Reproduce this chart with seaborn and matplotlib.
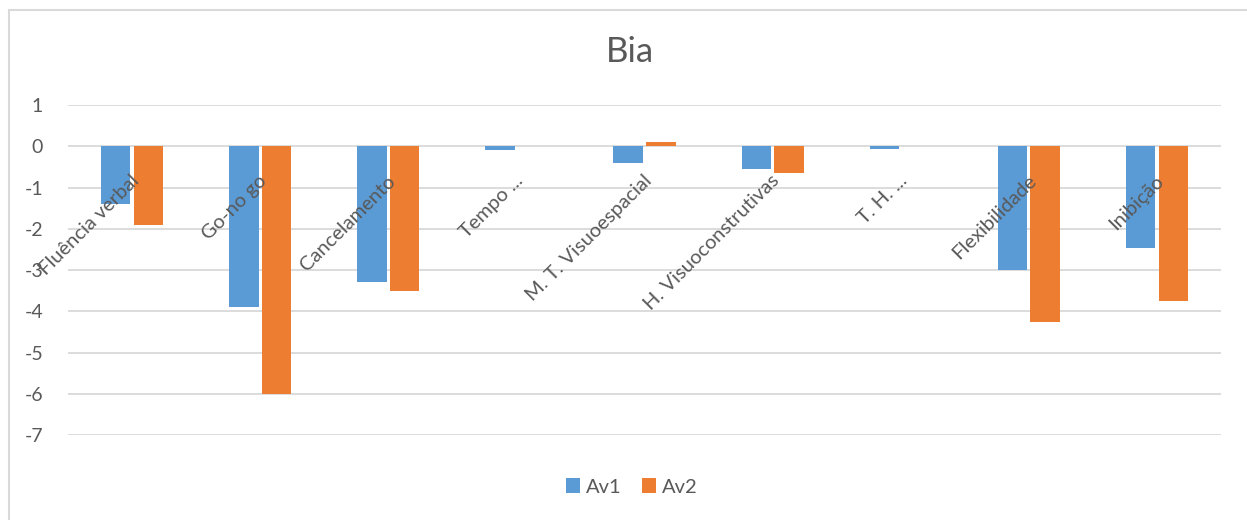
import matplotlib
matplotlib.use("Agg")
import matplotlib.pyplot as plt
from matplotlib.patches import Rectangle
import seaborn as sns
import pandas as pd

categories = ["Fluência verbal", "Go-no go", "Cancelamento", "Tempo ...",
              "M. T. Visuoespacial", "H. Visuoconstrutivas", "T. H. ...",
              "Flexibilidade", "Inibição"]
av1 = [-1.4, -3.9, -3.3, -0.1, -0.4, -0.55, -0.07, -3.0, -2.47]
av2 = [-1.9, -6.0, -3.5, 0.0, 0.1, -0.64, 0.0, -4.25, -3.74]
series_names = ["Av1", "Av2"]
y_ticks = [1, 0, -1, -2, -3, -4, -5, -6, -7]

BLUE = "#5B9BD5"
ORANGE = "#ED7D31"
TEXT = "#595959"
GRID = "#D9D9D9"

df = pd.DataFrame({
    "categoria": categories * 2,
    "valor": av1 + av2,
    "serie": [series_names[0]] * len(categories) + [series_names[1]] * len(categories),
})

sns.set_theme(style="white")
plt.rcParams["font.family"] = ["Lato", "DejaVu Sans"]

fig = plt.figure(figsize=(12.47, 5.2), dpi=100)
ax = fig.add_axes([68 / 1247, 1 - 435 / 520, (1221 - 68) / 1247, (435 - 105) / 520])

sns.barplot(data=df, x="categoria", y="valor", hue="serie", order=categories,
            palette=[BLUE, ORANGE], width=0.51, gap=0.1, saturation=1,
            errorbar=None, linewidth=0, ax=ax, zorder=3)

ax.set_ylim(-7, 1)
ax.set_xlim(-0.5, len(categories) - 0.5)
ax.set_yticks(y_ticks)
ax.set_yticklabels([str(t) for t in y_ticks], color=TEXT, fontsize=14)
ax.tick_params(axis="y", length=0, pad=18)
ax.set_xticks([])
ax.set_xlabel("")
ax.set_ylabel("")
ax.yaxis.grid(True, color=GRID, linewidth=1.3, zorder=0)
ax.set_axisbelow(True)
for s in ax.spines.values():
    s.set_visible(False)

# category names sit next to the zero line, slanted
for i, name in enumerate(categories):
    ax.annotate(name, xy=(i, 0), xytext=(3, -23), textcoords="offset points",
                ha="right", va="center", rotation=45, rotation_mode="anchor",
                color=TEXT, fontsize=14.5, zorder=5)

sns.move_legend(ax, "center", bbox_to_anchor=(632 / 1247, 1 - 487 / 520),
                bbox_transform=fig.transFigure, ncol=2, frameon=False, title=None,
                handlelength=0.7, handleheight=0.7, handletextpad=0.3,
                columnspacing=1.0, fontsize=14.5)
for t in ax.get_legend().get_texts():
    t.set_color(TEXT)

fig.text(630 / 1247, 1 - 52 / 520, "Bia", ha="center", va="center",
         fontsize=25, color=TEXT)

# chart frame
fig.patches.append(Rectangle((9 / 1247, -0.2), 2.0, 1.2 - 10 / 520, transform=fig.transFigure,
                             fill=False, edgecolor=GRID, linewidth=1.5))

fig.savefig("out.png", dpi=100, facecolor="white")
